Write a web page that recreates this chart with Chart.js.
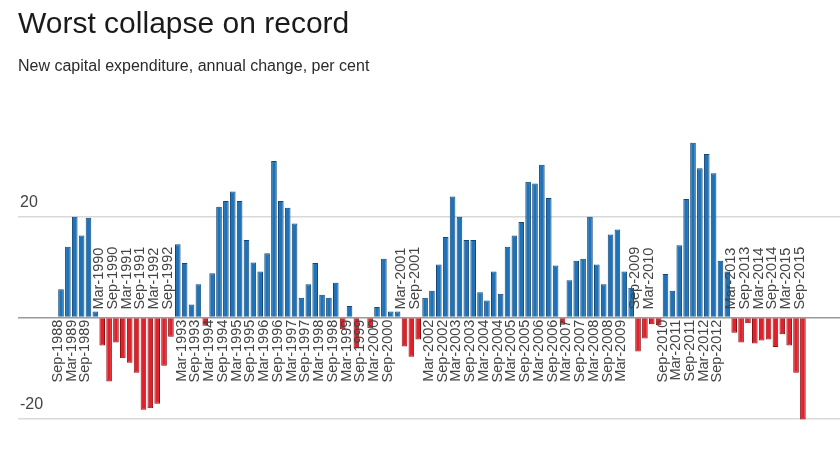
<!DOCTYPE html>
<html>
<head>
<meta charset="utf-8">
<script src="https://cdn.jsdelivr.net/npm/chart.js@4"></script>
<style>
  body { margin: 0; background: #fff; }
  #wrap { width: 840px; height: 460px; position: relative; }
</style>
</head>
<body>
<div id="wrap"><canvas id="myChart"></canvas></div>
<script>
// data: new capex, annual change (%), quarterly Sep-1988 .. Sep-2015
const capex = [
  5.6, 14.0, 19.9, 16.2, 19.7, 1.2, -5.5, -12.6, -4.9, -8.0,
  -8.9, -10.9, -18.2, -17.9, -17.0, -9.5, -3.8, 14.5, 10.8, 2.6,
  6.6, -1.6, 8.75, 21.9, 23.0, 24.9, 23.0, 15.3, 10.9, 9.1,
  12.7, 30.9, 23.0, 21.7, 18.6, 3.9, 6.6, 10.8, 4.5, 3.9,
  6.9, -2.3, 2.3, -6.05, 0, -2.1, 2.1, 11.6, 1.2, 1.2,
  -5.7, -7.7, -4.3, 3.9, 5.3, 10.5, 15.9, 23.9, 19.9, 15.3,
  15.3, 5.0, 3.4, 9.1, 4.7, 14.0, 16.2, 18.9, 26.8, 26.5,
  30.2, 23.6, 10.3, -1.4, 7.4, 11.25, 11.6, 19.9, 10.5, 6.6,
  16.4, 17.4, 9.1, 5.9, -6.7, -4.1, -1.3, -1.5, 8.6, 5.3,
  14.3, 23.4, 34.5, 29.5, 32.3, 28.5, 11.25, 9.1, -3.0, -4.9,
  -1.1, -5.1, -4.5, -4.3, -5.8, -3.3, -5.5, -10.9, -20.1
];

// one label every second quarter (Sep / Mar)
const tickLabels = [
  'Sep-1988', 'Mar-1989', 'Sep-1989', 'Mar-1990', 'Sep-1990', 'Mar-1991', 'Sep-1991',
  'Mar-1992', 'Sep-1992', 'Mar-1993', 'Sep-1993', 'Mar-1994', 'Sep-1994', 'Mar-1995',
  'Sep-1995', 'Mar-1996', 'Sep-1996', 'Mar-1997', 'Sep-1997', 'Mar-1998', 'Sep-1998',
  'Mar-1999', 'Sep-1999', 'Mar-2000', 'Sep-2000', 'Mar-2001', 'Sep-2001', 'Mar-2002',
  'Sep-2002', 'Mar-2003', 'Sep-2003', 'Mar-2004', 'Sep-2004', 'Mar-2005', 'Sep-2005',
  'Mar-2006', 'Sep-2006', 'Mar-2007', 'Sep-2007', 'Mar-2008', 'Sep-2008', 'Mar-2009',
  'Sep-2009', 'Mar-2010', 'Sep-2010', 'Mar-2011', 'Sep-2011', 'Mar-2012', 'Sep-2012',
  'Mar-2013', 'Sep-2013', 'Mar-2014', 'Sep-2014', 'Mar-2015', 'Sep-2015'
];

const yTicks = [-20, 0, 20];

const FONT = '"Liberation Sans", Arial, sans-serif';

// title + subtitle
const headline = {
  id: 'headline',
  beforeDraw(chart) {
    const c = chart.ctx;
    c.save();
    c.textBaseline = 'alphabetic';
    c.textAlign = 'left';
    c.fillStyle = '#1a1a1a';
    c.font = '30px ' + FONT;
    c.fillText('Worst collapse on record', 18, 33);
    c.fillStyle = '#2a2a2a';
    c.font = '16px ' + FONT;
    c.fillText('New capital expenditure, annual change, per cent', 18, 71);
    c.restore();
  }
};

// rotated date labels, put on the empty side of the zero line
const dateLabels = {
  id: 'dateLabels',
  afterDatasetsDraw(chart) {
    const c = chart.ctx;
    const xs = chart.scales.x, ys = chart.scales.y;
    const zero = ys.getPixelForValue(0);
    c.save();
    c.font = '14.5px ' + FONT;
    c.fillStyle = '#444';
    c.textBaseline = 'alphabetic';
    tickLabels.forEach((lab, k) => {
      const i = k * 2;
      const x = xs.getPixelForValue(i) + 1;
      c.save();
      if (capex[i] < 0) {
        c.translate(x, zero - 8);
        c.rotate(-Math.PI / 2);
        c.textAlign = 'left';
      } else {
        c.translate(x, zero + 2);
        c.rotate(-Math.PI / 2);
        c.textAlign = 'right';
      }
      c.fillText(lab, 0, 0);
      c.restore();
    });
    c.restore();
  }
};

const ctx = document.getElementById('myChart');
new Chart(ctx, {
  type: 'bar',
  data: {
    datasets: [{
      data: capex.map((v, i) => ({ x: i, y: v })),
      backgroundColor: capex.map(v => v < 0 ? '#e0202a' : '#1f72b8'),
      borderColor: capex.map(v => v < 0 ? '#8e0f12' : '#0f4778'),
      borderWidth: 1,
      barPercentage: 0.86,
      categoryPercentage: 0.95
    }]
  },
  options: {
    responsive: true,
    maintainAspectRatio: false,
    animation: false,
    layout: { padding: { left: 14, right: 0, top: 115, bottom: 36 } },
    plugins: {
      legend: { display: false },
      tooltip: { enabled: false }
    },
    scales: {
      x: {
        type: 'linear',
        display: false,
        offset: false,
        bounds: 'data',
        grace: 0,
        min: -6.26,
        max: 113.4
      },
      y: {
        min: -21,
        max: 40,
        afterBuildTicks: axis => { axis.ticks = yTicks.map(v => ({ value: v })); },
        border: { display: false },
        grid: {
          drawTicks: false,
          color: c => c.tick && c.tick.value === 0 ? '#9a9a9a' : '#d9d9d9',
          lineWidth: 1.5
        },
        ticks: {
          mirror: true,
          padding: 2,
          labelOffset: -14,
          color: '#444',
          font: { family: FONT, size: 16 },
          callback: v => v === 0 ? '' : v
        }
      }
    }
  },
  plugins: [headline, dateLabels]
});
</script>
</body>
</html>
